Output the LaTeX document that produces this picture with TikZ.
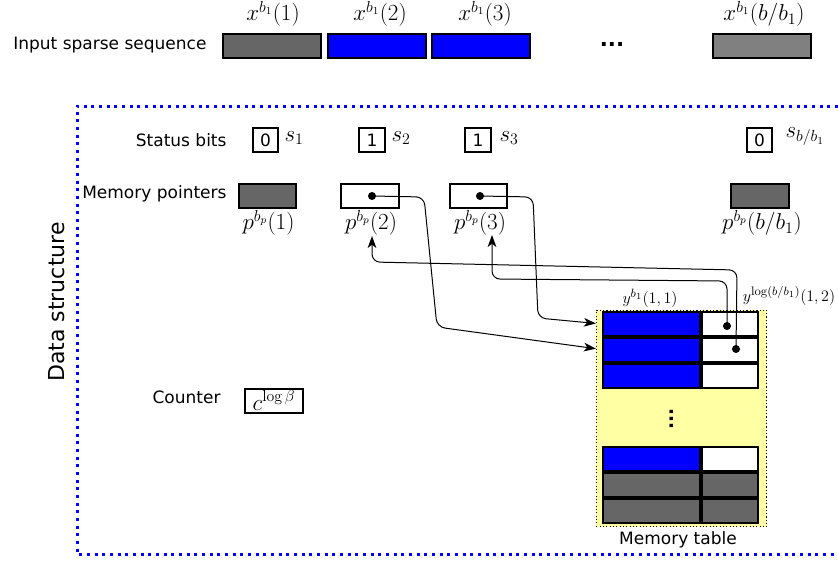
\documentclass[tikz,border=0pt]{standalone}
\usepackage{fontspec}
\setsansfont{DejaVu Sans}
\usetikzlibrary{arrows.meta}

\definecolor{seqblue}{RGB}{0,0,255}
\definecolor{darkcell}{RGB}{102,102,102}
\definecolor{midcell}{RGB}{128,128,128}
\definecolor{memyellow}{RGB}{255,255,163}

\tikzset{every picture/.style={line width=0.75pt}}
\tikzset{
	txt/.style={inner sep=0.75pt, font=\sffamily\fontsize{12.75}{15}\selectfont},
	mth/.style={inner sep=0.75pt, font=\fontsize{17}{20}\selectfont},
	seqbox/.style={draw, line width=1.5pt, inner sep=0pt, minimum width=73.5pt, minimum height=18pt},
	bitbox/.style={draw, line width=1.5pt, inner sep=0pt, minimum width=19pt, minimum height=18.5pt, font=\sffamily\fontsize{12.75}{15}\selectfont},
	ptrbox/.style={draw, line width=1.5pt, inner sep=0pt, minimum width=43pt, minimum height=18.5pt},
	cell/.style={draw, line width=1.5pt, inner sep=0pt, minimum height=18pt},
	memarea/.style={draw, fill=memyellow, line width=0.75pt, dash pattern=on 0.9pt off 1.6pt, inner sep=0pt, minimum width=128pt, minimum height=162.5pt},
	frame/.style={draw=seqblue, line width=2.25pt, dash pattern=on 2.25pt off 3.5pt},
	ptrarrow/.style={-{Stealth[length=9pt, width=6.5pt, inset=2.5pt]}, rounded corners=6pt},
}

\begin{document}
\begin{tikzpicture}[x=0.75pt,y=0.75pt,yscale=-1,xscale=1]
	\useasboundingbox (0,0) rectangle (838,560);
	
	%Input sequence
	\node[txt, anchor=east] (seqlbl) at (208,45) {Input sparse sequence};
	\node[seqbox, fill=darkcell] (in1) at (272,46.5) {};
	\node[seqbox, fill=seqblue] (in2) at (377,46.5) {};
	\node[seqbox, fill=seqblue] (in3) at (481,46.5) {};
	\node[seqbox, fill=midcell] (in4) at (761.5,46.5) {};
	\node[mth] (inx1) at (273,14) {$x^{b_1}(1)$};
	\node[mth] (inx2) at (380,14) {$x^{b_1}(2)$};
	\node[mth] (inx3) at (485,14) {$x^{b_1}(3)$};
	\node[mth] (inx4) at (764,14) {$x^{b_1}(b/b_1)$};
	\node[txt, font=\sffamily\bfseries\fontsize{16}{16}\selectfont] (indots) at (612,44) {...};
	
	%Data structure frame
	\draw[frame] (838,106) -- (77,106) -- (77,554) -- (838,554);
	\node[txt, rotate=90, font=\sffamily\fontsize{16.5}{20}\selectfont] (dslbl) at (57,302) {Data structure};
	
	%Status bits
	\node[txt, anchor=east] (stlbl) at (228,140) {Status bits};
	\node[bitbox] (s1) at (265.5,140) {0};
	\node[bitbox] (s2) at (372,140) {1};
	\node[bitbox] (s3) at (478,140) {1};
	\node[bitbox] (s4) at (759.5,140) {0};
	\node[mth, anchor=west] (s1lbl) at (283,138) {$s_1$};
	\node[mth, anchor=west] (s2lbl) at (390,138) {$s_2$};
	\node[mth, anchor=west] (s3lbl) at (498,138) {$s_3$};
	\node[mth, anchor=west] (s4lbl) at (784,137) {$s_{b/b_1}$};
	
	%Memory pointers
	\node[txt, anchor=east] (ptlbl) at (228,194) {Memory pointers};
	\node[ptrbox, fill=darkcell] (p1) at (267.5,196) {};
	\node[ptrbox, fill=white] (p2) at (370,196) {};
	\node[ptrbox, fill=white] (p3) at (478.5,196) {};
	\node[ptrbox, fill=darkcell] (p4) at (760,196) {};
	\node[mth] (p1lbl) at (268.5,223) {$p^{b_p}(1)$};
	\node[mth] (p2lbl) at (371,223) {$p^{b_p}(2)$};
	\node[mth] (p3lbl) at (480,223) {$p^{b_p}(3)$};
	\node[mth] (p4lbl) at (762,223) {$p^{b_p}(b/b_1)$};
	
	%Counter
	\node[txt, anchor=east] (ctlbl) at (222,397) {Counter};
	\node[ptrbox, minimum height=18pt, inner sep=0.75pt, font=\fontsize{17}{20}\selectfont] (ctr) at (274,400.5) {$c^{\log\beta}$};
	
	%Memory table
	\node[memarea] (mem) at (681.5,418.5) {};
	\node[cell, fill=seqblue, minimum width=73pt] (m11) at (651.5,324) {};
	\node[cell, fill=white, minimum width=42.5pt] (m12) at (730,324) {};
	\node[cell, fill=seqblue, minimum width=73pt] (m21) at (651.5,349.5) {};
	\node[cell, fill=white, minimum width=42.5pt] (m22) at (730,349.5) {};
	\node[cell, fill=seqblue, minimum width=73pt] (m31) at (651.5,376) {};
	\node[cell, fill=white, minimum width=42.5pt] (m32) at (730,376) {};
	\node[cell, fill=seqblue, minimum width=73pt] (m41) at (651.5,458.5) {};
	\node[cell, fill=white, minimum width=42.5pt] (m42) at (730,458.5) {};
	\node[cell, fill=darkcell, minimum width=73pt] (m51) at (651.5,484.5) {};
	\node[cell, fill=darkcell, minimum width=42.5pt] (m52) at (730,484.5) {};
	\node[cell, fill=darkcell, minimum width=73pt] (m61) at (651.5,510.5) {};
	\node[cell, fill=darkcell, minimum width=42.5pt] (m62) at (730,510.5) {};
	\node[txt, rotate=90, font=\sffamily\bfseries\fontsize{14}{14}\selectfont] (vdots) at (672,419) {...};
	\node[mth, font=\fontsize{13.2}{15}\selectfont] (ylbl1) at (650,298) {$y^{b_1}(1,1)$};
	\node[mth, font=\fontsize{13.2}{15}\selectfont] (ylbl2) at (789,296) {$y^{\log(b/b_1)}(1,2)$};
	\node[txt] (memlbl) at (678,540) {Memory table};
	
	%Pointer dots
	\coordinate (d2) at (372,196);
	\coordinate (d3) at (480,196);
	\coordinate (d11) at (727,326);
	\coordinate (d21) at (736,349);
	\coordinate (t2) at (372,236);
	\coordinate (t3) at (492,235);
	\fill (d2) circle[radius=3pt];
	\fill (d3) circle[radius=3pt];
	\fill (d11) circle[radius=3pt];
	\fill (d21) circle[radius=3pt];
	
	%Pointers into the table
	\draw[ptrarrow, shorten >=4.5pt] (d2) -- (424,197) -- (437,327) -- (m21.west);
	\draw[ptrarrow, shorten >=4.5pt] (d3) -- (533,197) -- (538,318) -- (m11.west);
	%Pointers back to the memory pointers
	\draw[ptrarrow] (d11) -- (727,281) -- (492,279) -- (t3);
	\draw[ptrarrow] (d21) -- (737,270) -- (372,262) -- (t2);
	
\end{tikzpicture}
\end{document}
